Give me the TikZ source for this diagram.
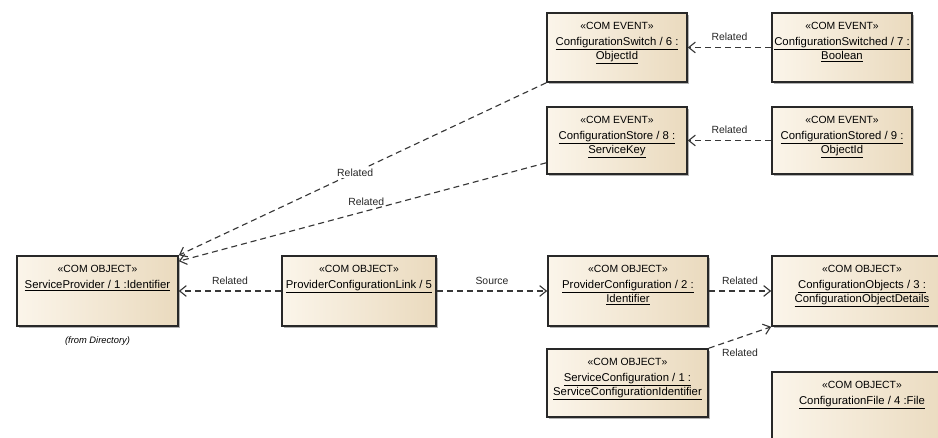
\documentclass[tikz,border=0pt]{standalone}
\usepackage{fontspec}
\setmainfont{Liberation Sans}
\usetikzlibrary{arrows.meta,shadows}
\definecolor{boxA}{RGB}{251,245,234}
\definecolor{boxB}{RGB}{234,218,190}
\definecolor{edgec}{RGB}{40,40,40}
\definecolor{connc}{RGB}{55,55,55}
\newcommand\stereofont{\fontsize{7.8}{9}\selectfont}
\newcommand\namefont{\fontsize{8.5}{10.5}\selectfont}
\tikzset{
  objbox/.style={draw=edgec, line width=1.2pt, left color=boxA, right color=boxB,
    drop shadow={shadow xshift=1.5pt, shadow yshift=-1.5pt, opacity=0.3, fill=black}},
  objtext/.style={anchor=north, align=center, inner sep=0pt, font=\namefont},
  rel/.style={draw=connc, line width=0.85pt, dash pattern=on 4.5pt off 3pt,
    -{Straight Barb[length=5pt,width=8pt,line width=0.85pt]}},
  lbl/.style={font=\stereofont, inner sep=1pt, text=black!85},
}
\newcommand\umlobj[7]{%
  \node[objbox, minimum width=#4*0.75pt, minimum height=#5*0.75pt] (#1) at (#2,#3) {};
  \node[objtext] (#1t) at ([yshift=-7.5pt]#1.north) {{\stereofont #6}\\[1pt] #7};
}
\begin{document}
\begin{tikzpicture}[x=0.75pt,y=-0.75pt]
\useasboundingbox (0,0) rectangle (938,438);
\clip (0,0) rectangle (938,438);
% boxes
\umlobj{sw}{617}{47.5}{140}{69}{«COM EVENT»}{\underline{ConfigurationSwitch / 6 :}\\ \underline{ObjectId}}
\umlobj{swd}{842}{47.5}{140}{69}{«COM EVENT»}{\underline{ConfigurationSwitched / 7 :}\\ \underline{Boolean}}
\umlobj{st}{617}{140.5}{140}{67}{«COM EVENT»}{\underline{ConfigurationStore / 8 :}\\ \underline{ServiceKey}}
\umlobj{std}{842}{140.5}{140}{67}{«COM EVENT»}{\underline{ConfigurationStored / 9 :}\\ \underline{ObjectId}}
\umlobj{sp}{97.5}{291}{161}{70}{«COM OBJECT»}{\underline{ServiceProvider / 1 :Identifier}}
\umlobj{pcl}{359}{291}{154}{70}{«COM OBJECT»}{\underline{ProviderConfigurationLink / 5}}
\umlobj{pc}{628}{291}{160}{70}{«COM OBJECT»}{\underline{ProviderConfiguration / 2 :}\\ \underline{Identifier}}
\umlobj{co}{862}{291}{180}{70}{«COM OBJECT»}{\underline{ConfigurationObjects / 3 :}\\ \underline{ConfigurationObjectDetails}}
\umlobj{sc}{627.5}{383}{161}{68}{«COM OBJECT»}{\underline{ServiceConfiguration / 1 :}\\ \underline{ServiceConfigurationIdentifier}}
\umlobj{cf}{862}{416}{180}{88}{«COM OBJECT»}{\underline{ConfigurationFile / 4 :File}}
\node[font=\fontsize{7}{8}\selectfont\itshape, below=7pt, inner sep=0pt] (fd) at (sp.south) {(from Directory)};
% connectors
\draw[rel] (swd.west) -- node[lbl, midway, above=3.5pt] (l1) {Related} (sw.east);
\draw[rel] (std.west) -- node[lbl, midway, above=3.5pt] (l2) {Related} (st.east);
\draw[rel] (sw.south west) -- node[lbl, pos=0.52, fill=white] (l3) {Related} (sp.north east);
\draw[rel] ([yshift=9pt]st.south west) -- node[lbl, pos=0.49, above=2.5pt] (l4) {Related} ([yshift=-4.5pt]sp.north east);
\draw[rel] (pcl.west) -- node[lbl, midway, above=3.5pt] (l5) {Related} (sp.east);
\draw[rel] (pcl.east) -- node[lbl, midway, above=3.5pt] (l6) {Source} (pc.west);
\draw[rel] (pc.east) -- node[lbl, midway, above=3.5pt] (l7) {Related} (co.west);
\draw[rel] (sc.north east) -- node[lbl, midway, below=7pt] (l8) {Related} (co.south west);
\end{tikzpicture}
\end{document}
